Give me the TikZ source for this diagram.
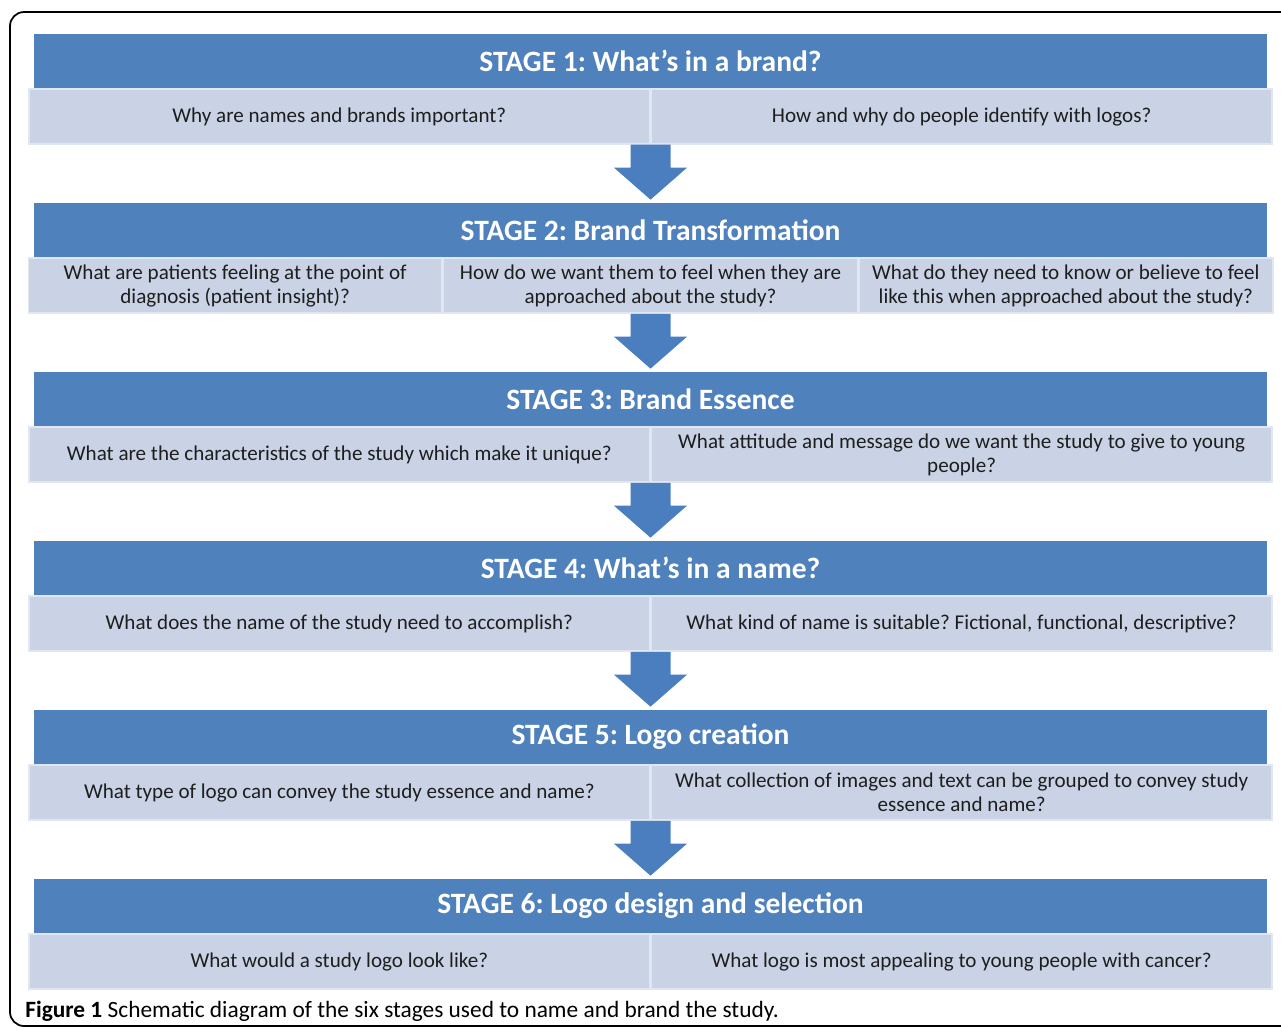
\documentclass[tikz,border=0pt]{standalone}
\usepackage{fontspec}
\setmainfont{Carlito}
\usetikzlibrary{positioning,calc}

\definecolor{stageblue}{HTML}{4F81BD}
\definecolor{cellblue}{HTML}{C9D3E5}
\definecolor{arrowblue}{HTML}{4A7EBE}
\definecolor{celltext}{HTML}{1E1E1E}

\begin{document}
\frenchspacing
\begin{tikzpicture}
  [
  x=0.02cm, y=-0.02cm,
  stagebox/.style={fill=stageblue, text=white, inner sep=0pt,
    minimum width=24.66cm, minimum height=1.08cm,
    font=\fontsize{16.8}{19}\selectfont\bfseries},
  cellbox/.style={fill=cellblue, draw=cellblue!55!white, line width=0.8pt,
    inner sep=0pt, minimum height=1.1cm, align=center, text=celltext,
    font=\fontsize{12}{13.6}\selectfont},
  halfcell/.style={cellbox, minimum width=12.42cm},
  thirdcell/.style={cellbox, minimum width=8.28cm},
  blockarrow/.style={fill=arrowblue}
  ]

  \useasboundingbox (0,0) rectangle (1281,1029);
  \clip (0,0) rectangle (1281,1029);

  % outer frame (runs off the right edge)
  \draw[line width=1pt, rounded corners=8pt] (1320,12) -- (10,12) -- (10,1026) -- (1320,1026);

  % stage headers
  \foreach \i/\title in {1/{STAGE 1: What’s in a brand?},
                         2/{STAGE 2: Brand Transformation},
                         3/{STAGE 3: Brand Essence},
                         4/{STAGE 4: What’s in a name?},
                         5/{STAGE 5: Logo creation},
                         6/{STAGE 6: Logo design and selection}} {
    \node[stagebox] (s\i) at (650.5,{61+169*(\i-1)}) {\title};
  }

  % questions
  \node[halfcell, anchor=north east] (c1a) at (s1.south) {Why are names and brands important?};
  \node[halfcell, anchor=north west] (c1b) at (s1.south) {How and why do people identify with logos?};

  \node[thirdcell, below=0pt of s2] (c2b) {How do we want them to feel when they are\\approached about the study?};
  \node[thirdcell, left=0pt of c2b] (c2a) {What are patients feeling at the point of\\diagnosis (patient insight)?};
  \node[thirdcell, right=0pt of c2b] (c2c) {What do they need to know or believe to feel\\like this when approached about the study?};

  \node[halfcell, anchor=north east] (c3a) at (s3.south) {What are the characteristics of the study which make it unique?};
  \node[halfcell, anchor=north west] (c3b) at (s3.south) {What attitude and message do we want the study to give to young\\people?};

  \node[halfcell, anchor=north east] (c4a) at (s4.south) {What does the name of the study need to accomplish?};
  \node[halfcell, anchor=north west] (c4b) at (s4.south) {What kind of name is suitable? Fictional, functional, descriptive?};

  \node[halfcell, anchor=north east] (c5a) at (s5.south) {What type of logo can convey the study essence and name?};
  \node[halfcell, anchor=north west] (c5b) at (s5.south) {What collection of images and text can be grouped to convey study\\essence and name?};

  \node[halfcell, anchor=north east] (c6a) at (s6.south) {What would a study logo look like?};
  \node[halfcell, anchor=north west] (c6b) at (s6.south) {What logo is most appealing to young people with cancer?};

  % block arrows between the stages
  \foreach \i/\j in {1/2,2/3,3/4,4/5,5/6} {
    \coordinate (a\i) at ($(s\j.north)+(0,-3)$);
    \fill[blockarrow] (a\i) -- ($(a\i)+(-36.5,-32)$) -- ($(a\i)+(-20,-32)$)
      |- ($(s\j.north |- c\i b.south)+(20,0)$)
      |- ($(a\i)+(36.5,-32)$) -- cycle;
  }

  \node[anchor=west, inner sep=0pt, font=\fontsize{13.3}{15}\selectfont] (caption) at (25,1011)
    {\textbf{Figure 1} Schematic diagram of the six stages used to name and brand the study.};
\end{tikzpicture}
\end{document}
